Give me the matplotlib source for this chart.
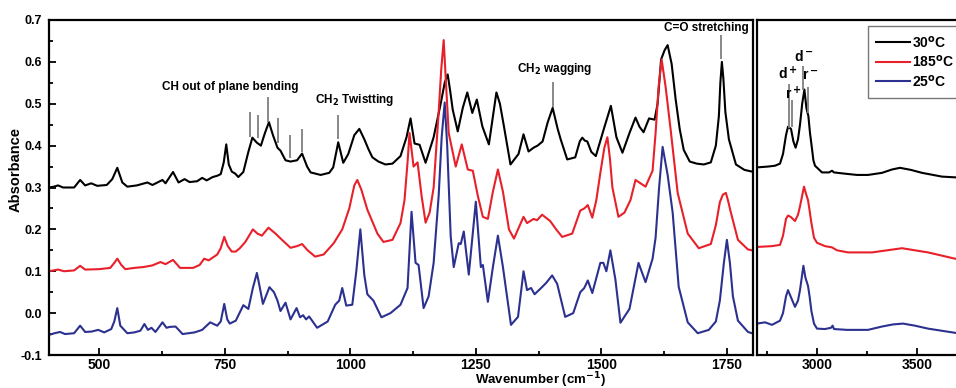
import numpy as np
import matplotlib
matplotlib.use("Agg")
import matplotlib.pyplot as plt
from matplotlib.ticker import MultipleLocator

plt.rcParams['font.family'] = ['Liberation Sans', 'DejaVu Sans']
plt.rcParams['font.weight'] = 'bold'
plt.rcParams['mathtext.default'] = 'bf'
plt.rcParams['axes.unicode_minus'] = False

# ---- data (wavenumber in cm-1, absorbance) ----
# 30 C, fingerprint region
black_x = [400, 410, 418, 428, 450, 462, 472, 484, 496, 515, 526, 536, 546, 556, 575, 596, 606, 626, 632, 647,
           658, 670, 680, 695, 705, 714, 726, 735, 742, 748, 753, 758, 764, 771, 777, 787, 797, 805, 814, 822,
           830, 838, 846, 855, 861, 871, 881, 894, 904, 914, 921, 941, 958, 966, 976, 986, 996, 1008, 1018, 1028,
           1036, 1044, 1056, 1070, 1084, 1100, 1112, 1120, 1128, 1138, 1150, 1166, 1180, 1188, 1194, 1199, 1204,
           1214, 1224, 1233, 1243, 1252, 1263, 1276, 1284, 1291, 1298, 1306, 1319, 1335, 1345, 1355, 1365, 1373,
           1383, 1393, 1403, 1413, 1419, 1432, 1448, 1457, 1462, 1467, 1472, 1480, 1489, 1505, 1519, 1530, 1542,
           1556, 1568, 1576, 1584, 1595, 1606, 1612, 1619, 1626, 1632, 1640, 1648, 1656, 1664, 1676, 1690, 1704,
           1718, 1728, 1734, 1737, 1740, 1743, 1747, 1754, 1768, 1785, 1800]
black_y = [0.300, 0.302, 0.305, 0.300, 0.300, 0.318, 0.305, 0.310, 0.304, 0.306, 0.320, 0.347, 0.312, 0.302,
           0.305, 0.312, 0.306, 0.318, 0.310, 0.337, 0.312, 0.320, 0.313, 0.315, 0.323, 0.317, 0.325, 0.328,
           0.332, 0.360, 0.403, 0.355, 0.338, 0.333, 0.325, 0.337, 0.385, 0.419, 0.407, 0.400, 0.430, 0.456,
           0.425, 0.395, 0.388, 0.365, 0.362, 0.365, 0.381, 0.350, 0.336, 0.330, 0.335, 0.348, 0.408, 0.359,
           0.380, 0.425, 0.440, 0.415, 0.392, 0.372, 0.362, 0.355, 0.357, 0.375, 0.420, 0.465, 0.405, 0.402,
           0.359, 0.420, 0.500, 0.550, 0.570, 0.530, 0.486, 0.434, 0.490, 0.527, 0.478, 0.510, 0.446, 0.403,
           0.470, 0.527, 0.500, 0.446, 0.355, 0.380, 0.427, 0.386, 0.395, 0.400, 0.410, 0.455, 0.490, 0.440,
           0.415, 0.367, 0.372, 0.410, 0.419, 0.412, 0.410, 0.385, 0.375, 0.440, 0.495, 0.420, 0.383, 0.430,
           0.467, 0.445, 0.432, 0.465, 0.462, 0.500, 0.606, 0.628, 0.640, 0.595, 0.510, 0.440, 0.390, 0.362,
           0.357, 0.355, 0.360, 0.400, 0.470, 0.550, 0.600, 0.560, 0.480, 0.415, 0.355, 0.342, 0.338]

# 185 C
red_x = [400, 418, 430, 450, 462, 472, 500, 522, 530, 536, 544, 552, 570, 588, 606, 622, 632, 647, 661, 687,
         700, 709, 718, 735, 742, 749, 756, 764, 772, 780, 791, 806, 815, 824, 837, 851, 864, 881, 894, 904,
         915, 930, 947, 967, 984, 998, 1008, 1014, 1022, 1034, 1054, 1066, 1084, 1100, 1108, 1114, 1118, 1126,
         1134, 1142, 1150, 1158, 1166, 1176, 1181, 1186, 1191, 1196, 1210, 1222, 1234, 1244, 1254, 1264, 1274,
         1284, 1294, 1304, 1316, 1326, 1334, 1345, 1352, 1365, 1372, 1382, 1398, 1410, 1422, 1442, 1458, 1466,
         1473, 1482, 1490, 1498, 1506, 1512, 1517, 1522, 1534, 1546, 1558, 1568, 1578, 1588, 1602, 1608, 1614,
         1620, 1628, 1638, 1652, 1672, 1694, 1718, 1728, 1736, 1742, 1748, 1752, 1758, 1772, 1792, 1800]
red_y = [0.100, 0.104, 0.100, 0.102, 0.113, 0.104, 0.105, 0.108, 0.120, 0.130, 0.115, 0.105, 0.108, 0.110,
         0.114, 0.122, 0.117, 0.127, 0.108, 0.108, 0.115, 0.130, 0.126, 0.140, 0.155, 0.182, 0.160, 0.147,
         0.147, 0.155, 0.170, 0.200, 0.190, 0.185, 0.204, 0.190, 0.175, 0.156, 0.160, 0.165, 0.150, 0.135,
         0.140, 0.167, 0.200, 0.250, 0.305, 0.318, 0.295, 0.247, 0.190, 0.170, 0.175, 0.215, 0.270, 0.360,
         0.430, 0.350, 0.360, 0.280, 0.216, 0.240, 0.300, 0.480, 0.580, 0.652, 0.540, 0.430, 0.350, 0.403,
         0.343, 0.340, 0.280, 0.230, 0.225, 0.290, 0.343, 0.290, 0.200, 0.178, 0.200, 0.230, 0.215, 0.225,
         0.222, 0.235, 0.220, 0.200, 0.182, 0.190, 0.245, 0.250, 0.258, 0.228, 0.270, 0.335, 0.395, 0.420,
         0.370, 0.300, 0.230, 0.240, 0.270, 0.318, 0.310, 0.302, 0.340, 0.430, 0.540, 0.606, 0.540, 0.438,
         0.287, 0.190, 0.155, 0.165, 0.210, 0.265, 0.283, 0.287, 0.270, 0.240, 0.175, 0.152, 0.150]

# 25 C
blue_x = [400, 411, 422, 432, 450, 462, 472, 485, 498, 510, 524, 530, 536, 542, 556, 570, 582, 590, 597, 604,
          612, 626, 634, 640, 652, 666, 690, 705, 721, 735, 742, 749, 755, 760, 772, 787, 797, 806, 814, 820,
          826, 839, 848, 855, 861, 871, 881, 893, 900, 906, 912, 918, 934, 955, 970, 978, 984, 992, 1004, 1012,
          1020, 1028, 1034, 1046, 1062, 1080, 1100, 1114, 1122, 1130, 1136, 1146, 1156, 1166, 1176, 1182, 1188,
          1193, 1200, 1206, 1216, 1220, 1226, 1236, 1250, 1260, 1264, 1274, 1284, 1294, 1304, 1320, 1334, 1345,
          1352, 1360, 1367, 1380, 1390, 1402, 1412, 1428, 1444, 1458, 1466, 1473, 1482, 1498, 1504, 1510, 1518,
          1528, 1538, 1556, 1574, 1580, 1588, 1602, 1608, 1615, 1622, 1632, 1642, 1654, 1672, 1692, 1714, 1728,
          1736, 1744, 1750, 1756, 1762, 1772, 1792, 1800]
blue_y = [-0.052, -0.048, -0.045, -0.050, -0.048, -0.030, -0.045, -0.044, -0.040, -0.046, -0.038, -0.020,
          0.012, -0.030, -0.048, -0.046, -0.042, -0.026, -0.040, -0.035, -0.045, -0.022, -0.035, -0.033,
          -0.032, -0.050, -0.046, -0.040, -0.022, -0.030, -0.020, 0.022, -0.015, -0.025, -0.018, 0.019, 0.010,
          0.060, 0.096, 0.060, 0.022, 0.062, 0.050, 0.030, 0.005, 0.025, -0.015, 0.012, -0.010, -0.005, -0.015,
          -0.008, -0.035, -0.020, 0.020, 0.030, 0.060, 0.018, 0.020, 0.100, 0.200, 0.090, 0.045, 0.030, -0.010,
          0.000, 0.020, 0.060, 0.242, 0.120, 0.115, 0.012, 0.040, 0.120, 0.280, 0.420, 0.503, 0.400, 0.183,
          0.110, 0.167, 0.165, 0.195, 0.092, 0.266, 0.110, 0.115, 0.027, 0.110, 0.185, 0.110, -0.028, -0.009,
          0.100, 0.055, 0.060, 0.045, 0.060, 0.072, 0.090, 0.070, -0.009, 0.000, 0.050, 0.060, 0.078, 0.048,
          0.120, 0.120, 0.100, 0.150, 0.080, -0.023, 0.010, 0.120, 0.100, 0.074, 0.130, 0.180, 0.300, 0.397,
          0.330, 0.240, 0.063, -0.022, -0.048, -0.040, -0.020, 0.030, 0.120, 0.175, 0.120, 0.040, -0.018,
          -0.045, -0.048]

# CH stretching region
black_ch_x = [2700, 2755, 2790, 2815, 2830, 2845, 2855, 2870, 2882, 2893, 2905, 2915, 2926, 2937, 2947, 2957,
              2965, 2973, 2982, 2990, 3025, 3060, 3075, 3085, 3140, 3200, 3255, 3325, 3375, 3415, 3470, 3525,
              3625, 3700, 3745]
black_ch_y = [0.348, 0.350, 0.352, 0.357, 0.380, 0.425, 0.445, 0.440, 0.410, 0.395, 0.415, 0.450, 0.500,
              0.534, 0.490, 0.470, 0.430, 0.400, 0.365, 0.352, 0.336, 0.336, 0.340, 0.336, 0.333, 0.330,
              0.330, 0.335, 0.343, 0.347, 0.342, 0.335, 0.326, 0.324, 0.323]
red_ch_x = [2700, 2775, 2815, 2830, 2845, 2855, 2868, 2890, 2905, 2915, 2935, 2945, 2955, 2963, 2972, 2985,
            3000, 3040, 3075, 3100, 3155, 3275, 3350, 3425, 3490, 3555, 3690, 3745]
red_ch_y = [0.158, 0.160, 0.163, 0.185, 0.225, 0.233, 0.230, 0.220, 0.235, 0.255, 0.302, 0.285, 0.270,
            0.245, 0.215, 0.180, 0.168, 0.160, 0.157, 0.150, 0.145, 0.145, 0.150, 0.155, 0.150, 0.145,
            0.130, 0.128]
blue_ch_x = [2700, 2740, 2775, 2815, 2830, 2845, 2855, 2868, 2890, 2905, 2915, 2932, 2942, 2955, 2963, 2972,
             2985, 3000, 3040, 3070, 3078, 3085, 3150, 3255, 3325, 3380, 3430, 3490, 3555, 3690, 3745]
blue_ch_y = [-0.025, -0.022, -0.028, -0.018, 0.000, 0.040, 0.055, 0.040, 0.015, 0.030, 0.055, 0.113, 0.085,
             0.065, 0.040, 0.005, -0.025, -0.037, -0.038, -0.035, -0.030, -0.038, -0.040, -0.040, -0.032,
             -0.027, -0.025, -0.030, -0.037, -0.047, -0.048]

labels = ['30$^{o}$C', '185$^{o}$C', '25$^{o}$C']
colors = ['black', '#e8202a', '#2c3190']

# band assignment marks: (wavenumber, top, bottom)
ch_bend_x = [801, 817, 837, 857, 879, 903]
ch_bend_top = [0.481, 0.474, 0.517, 0.465, 0.426, 0.440]
ch_bend_bot = [0.421, 0.419, 0.457, 0.407, 0.371, 0.385]
band_marks = [(976, 0.472, 0.416), (1403, 0.551, 0.493), (1738, 0.663, 0.608)]
band_text = [('CH out of plane bending', 761, 0.539), ('CH$_2$ Twistting', 1008, 0.508),
             ('CH$_2$ wagging', 1407, 0.582), ('C=O stretching', 1710, 0.680)]
ch_marks = [(2860, 0.546, 0.443), (2875, 0.510, 0.445), (2930, 0.589, 0.534), (2955, 0.541, 0.479)]
ch_text = [('d$^+$', 2853, 0.572), ('r$^+$', 2880, 0.524), ('d$^-$', 2933, 0.614), ('r$^-$', 2968, 0.566)]

W, H = 956, 388
fig = plt.figure(figsize=(W / 100, H / 100), dpi=100)
ax1 = fig.add_axes([49 / W, 1 - 355 / H, (753 - 49) / W, 335 / H])
ax2 = fig.add_axes([757 / W, 1 - 355 / H, (966 - 757) / W, 335 / H])

lw = 1.5
for x, y, c, lab in zip([black_x, red_x, blue_x], [black_y, red_y, blue_y], colors, labels):
    ax1.plot(x, y, color=c, lw=lw, label=lab, solid_joinstyle='round')
for x, y, c, lab in zip([black_ch_x, red_ch_x, blue_ch_x], [black_ch_y, red_ch_y, blue_ch_y], colors, labels):
    ax2.plot(x, y, color=c, lw=lw, label=lab, solid_joinstyle='round')

gray = '#7f7f7f'
ax1.vlines(ch_bend_x, ch_bend_bot, ch_bend_top, color=gray, lw=1.3)
for xm, t, b in band_marks:
    ax1.vlines(xm, b, t, color=gray, lw=1.3)
for s, xt, yt in band_text:
    ax1.text(xt, yt, s, ha='center', va='center', fontsize=8.5, fontweight='bold')
for xm, t, b in ch_marks:
    ax2.vlines(xm, b, t, color=gray, lw=1.3)
for s, xt, yt in ch_text:
    ax2.text(xt, yt, s, ha='center', va='center', fontsize=10, fontweight='bold')

ax1.set_xlim(400, 1802)
ax2.set_xlim(2700, 3745)
for ax in (ax1, ax2):
    ax.set_ylim(-0.1, 0.7)
    for sp in ax.spines.values():
        sp.set_linewidth(1.6)
    ax.tick_params(which='both', direction='in', top=False, right=False, width=1.3)
    ax.tick_params(which='major', length=5)
    ax.tick_params(which='minor', length=3)

ax1.xaxis.set_major_locator(MultipleLocator(250))
ax1.xaxis.set_minor_locator(MultipleLocator(125))
ax1.yaxis.set_minor_locator(MultipleLocator(0.05))
ax1.set_yticks([-0.1, 0.0, 0.1, 0.2, 0.3, 0.4, 0.5, 0.6, 0.7])
ax1.set_yticklabels(['-0.1', '0.0', '0.1', '0.2', '0.3', '0.4', '0.5', '0.6', '0.7'])
ax1.tick_params(axis='y', labelsize=9, pad=5)
ax1.tick_params(axis='x', labelsize=10, pad=2)

ax2.xaxis.set_major_locator(MultipleLocator(500))
ax2.xaxis.set_minor_locator(MultipleLocator(250))
ax2.set_yticks([])
ax2.tick_params(axis='x', labelsize=10, pad=2)

leg = ax2.legend(loc='upper left', bbox_to_anchor=((868 - 757) / (966 - 757), (355 - 26) / 335),
                 fontsize=10, frameon=True, fancybox=False, handlelength=2.4, handletextpad=0.2,
                 labelspacing=0.25, borderaxespad=0, borderpad=0.6)
leg.get_frame().set_edgecolor('#555555')
leg.get_frame().set_linewidth(1.0)
for t in leg.get_texts():
    t.set_fontweight('bold')

fig.text(16 / W, 1 - 170 / H, 'Absorbance', rotation=90, ha='center', va='center',
         fontsize=10.5, fontweight='bold')
fig.text(540 / W, 1 - 380 / H, 'Wavenumber (cm$^{-1}$)', ha='center', va='center',
         fontsize=9.5, fontweight='bold')

fig.savefig('out.png', dpi=100)
